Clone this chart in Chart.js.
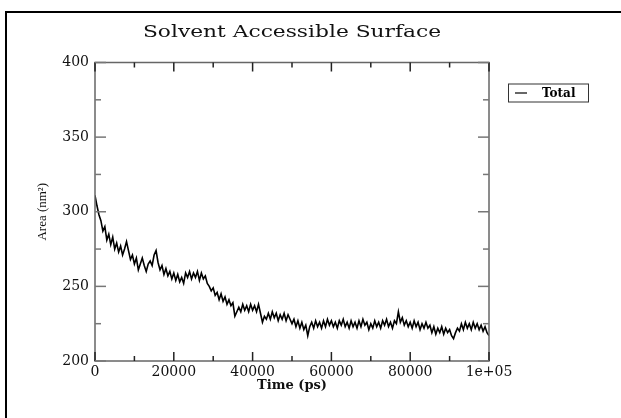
<!DOCTYPE html>
<html>
<head>
<meta charset="utf-8">
<title>Solvent Accessible Surface</title>
<script src="https://cdn.jsdelivr.net/npm/chart.js@4.4.1/dist/chart.umd.min.js"></script>
<style>
  html, body { margin: 0; padding: 0; background: #fff; }
  #wrap { width: 621px; height: 418px; position: relative; }
</style>
</head>
<body>
<div id="wrap"><canvas id="chart" width="621" height="418"></canvas></div>
<script>
// time axis (ps)
const timePs = [
  0, 500, 1000, 1500, 2000, 2500, 3000, 3500, 4000, 4500,
  5000, 5500, 6000, 6500, 7000, 7500, 8000, 8500, 9000, 9500,
  10000, 10500, 11000, 11500, 12000, 12500, 13000, 13500, 14000, 14500,
  15000, 15500, 16000, 16500, 17000, 17500, 18000, 18500, 19000, 19500,
  20000, 20500, 21000, 21500, 22000, 22500, 23000, 23500, 24000, 24500,
  25000, 25500, 26000, 26500, 27000, 27500, 28000, 28500, 29000, 29500,
  30000, 30500, 31000, 31500, 32000, 32500, 33000, 33500, 34000, 34500,
  35000, 35500, 36000, 36500, 37000, 37500, 38000, 38500, 39000, 39500,
  40000, 40500, 41000, 41500, 42000, 42500, 43000, 43500, 44000, 44500,
  45000, 45500, 46000, 46500, 47000, 47500, 48000, 48500, 49000, 49500,
  50000, 50500, 51000, 51500, 52000, 52500, 53000, 53500, 54000, 54500,
  55000, 55500, 56000, 56500, 57000, 57500, 58000, 58500, 59000, 59500,
  60000, 60500, 61000, 61500, 62000, 62500, 63000, 63500, 64000, 64500,
  65000, 65500, 66000, 66500, 67000, 67500, 68000, 68500, 69000, 69500,
  70000, 70500, 71000, 71500, 72000, 72500, 73000, 73500, 74000, 74500,
  75000, 75500, 76000, 76500, 77000, 77500, 78000, 78500, 79000, 79500,
  80000, 80500, 81000, 81500, 82000, 82500, 83000, 83500, 84000, 84500,
  85000, 85500, 86000, 86500, 87000, 87500, 88000, 88500, 89000, 89500,
  90000, 90500, 91000, 91500, 92000, 92500, 93000, 93500, 94000, 94500,
  95000, 95500, 96000, 96500, 97000, 97500, 98000, 98500, 99000, 99500,
  100000,
];

// total SAS area (nm^2)
const totalArea = [
  311, 304, 298, 294, 287, 290, 281, 285, 278, 283,
  275, 279, 273, 277, 271, 275, 280, 274, 268, 271,
  265, 269, 261, 265, 269, 264, 260, 265, 267, 264,
  271, 274, 266, 261, 264, 258, 262, 257, 260, 255,
  259, 254, 258, 253, 256, 252, 259, 256, 260, 255,
  259, 256, 260, 254, 259, 255, 257, 252, 250, 247,
  249, 244, 246, 241, 245, 240, 243, 238, 241, 237,
  239, 230, 233, 236, 233, 238, 234, 237, 233, 238,
  234, 237, 233, 238, 232, 226, 230, 228, 232, 228,
  233, 229, 232, 227, 231, 228, 232, 227, 231, 228,
  225, 228, 223, 227, 222, 226, 221, 224, 217, 223,
  226, 222, 227, 223, 226, 222, 227, 223, 228, 224,
  227, 223, 226, 222, 227, 224, 228, 223, 226, 222,
  227, 223, 226, 222, 227, 223, 228, 224, 226, 221,
  225, 222, 227, 223, 226, 222, 227, 224, 228, 223,
  226, 222, 227, 225, 233, 226, 229, 224, 227, 223,
  226, 222, 227, 223, 226, 221, 225, 222, 226, 222,
  224, 219, 223, 218, 222, 219, 223, 218, 222, 219,
  221, 217, 215, 219, 222, 220, 225, 221, 226, 222,
  225, 221, 226, 222, 225, 221, 224, 220, 223, 219,
  217,
];

const xTicks = [0, 20000, 40000, 60000, 80000, 100000];
const yTicks = [200, 250, 300, 350, 400];
const chartTitle = "Solvent Accessible Surface";

const serif = "'DejaVu Serif', serif";

// page frame, title, plot box, inward ticks on all four sides, boxed legend
const xmgraceLook = {
  id: "xmgraceLook",
  afterDatasetsDraw(chart) {
    const { ctx, chartArea: a, scales: { x, y } } = chart;
    ctx.save();

    // frame around the figure
    ctx.fillStyle = "#000";
    ctx.fillRect(5, 11, 621, 2);
    ctx.fillRect(5, 11, 2, 418);

    // title, drawn a bit wide like the original
    ctx.save();
    ctx.translate((a.left + a.right) / 2, 33);
    ctx.scale(1.28, 1);
    ctx.font = "17px " + serif;
    ctx.fillStyle = "#111";
    ctx.textAlign = "center";
    ctx.textBaseline = "middle";
    ctx.fillText(chartTitle, 0, 0);
    ctx.restore();

    ctx.strokeStyle = "#666";
    ctx.lineWidth = 1.5;
    ctx.strokeRect(a.left, a.top, a.right - a.left, a.bottom - a.top);

    const seg = (x1, y1, x2, y2) => {
      ctx.beginPath();
      ctx.moveTo(x1, y1);
      ctx.lineTo(x2, y2);
      ctx.stroke();
    };

    // x ticks: major every 20000, minor in between
    ctx.strokeStyle = "#222";
    for (let i = 0; i < xTicks.length; i++) {
      const px = x.getPixelForValue(xTicks[i]);
      seg(px, a.bottom, px, a.bottom - 9);
      seg(px, a.top, px, a.top + 9);
      if (i < xTicks.length - 1) {
        const mx = x.getPixelForValue((xTicks[i] + xTicks[i + 1]) / 2);
        seg(mx, a.bottom, mx, a.bottom - 5);
        seg(mx, a.top, mx, a.top + 5);
      }
    }

    // y ticks
    ctx.strokeStyle = "#777";
    for (let i = 0; i < yTicks.length; i++) {
      const py = y.getPixelForValue(yTicks[i]);
      seg(a.left, py, a.left + 11, py);
      seg(a.right, py, a.right - 11, py);
      if (i < yTicks.length - 1) {
        const my = y.getPixelForValue((yTicks[i] + yTicks[i + 1]) / 2);
        seg(a.left, my, a.left + 6, my);
        seg(a.right, my, a.right - 6, my);
      }
    }

    // legend
    const ds = chart.data.datasets[0];
    const lx = a.right + 19;
    const ly = a.top + 21;
    ctx.strokeStyle = "#333";
    ctx.lineWidth = 1;
    ctx.strokeRect(lx + 0.5, ly + 0.5, 80, 18);
    ctx.strokeStyle = ds.borderColor;
    ctx.lineWidth = 1.2;
    seg(lx + 7, ly + 9.5, lx + 19, ly + 9.5);
    ctx.fillStyle = "#000";
    ctx.font = "bold 12px " + serif;
    ctx.textBaseline = "middle";
    ctx.fillText(ds.label, lx + 34, ly + 10);

    ctx.restore();
  },
};

new Chart(document.querySelector("#chart"), {
  type: "line",
  data: {
    datasets: [
      {
        label: "Total",
        data: timePs.map((t, i) => ({ x: t, y: totalArea[i] })),
        borderColor: "#000",
        borderWidth: 1.6,
        pointRadius: 0,
        tension: 0,
      },
    ],
  },
  options: {
    responsive: false,
    animation: false,
    layout: { padding: { left: 0, right: 132, top: 62.5, bottom: 0 } },
    plugins: {
      legend: { display: false },
      tooltip: { enabled: false },
      title: { display: false },
    },
    scales: {
      x: {
        type: "linear",
        min: 0,
        max: 100000,
        afterFit: (s) => { s.height = 57; },
        afterBuildTicks: (s) => { s.ticks = xTicks.map((v) => ({ value: v })); },
        grid: { display: false, drawTicks: false },
        border: { display: false },
        ticks: {
          padding: 3,
          color: "#111",
          font: { family: serif, size: 14 },
          maxRotation: 0,
          callback: (v) => (v === 100000 ? "1e+05" : String(v)),
        },
        title: {
          display: true,
          text: "Time (ps)",
          color: "#111",
          font: { family: serif, size: 13, weight: "bold", lineHeight: 1.2 },
          padding: { top: 0, bottom: 25 },
        },
      },
      y: {
        min: 200,
        max: 400,
        afterFit: (s) => { s.width = 95; },
        afterBuildTicks: (s) => { s.ticks = yTicks.map((v) => ({ value: v })); },
        grid: { display: false, drawTicks: false },
        border: { display: false },
        ticks: {
          padding: 6,
          color: "#111",
          font: { family: serif, size: 14 },
        },
        title: {
          display: true,
          text: "Area (nm²)",
          color: "#111",
          font: { family: "'Liberation Serif', serif", size: 13, lineHeight: 1.2 },
          padding: { top: 35, bottom: 0 },
        },
      },
    },
  },
  plugins: [xmgraceLook],
});
</script>
</body>
</html>
